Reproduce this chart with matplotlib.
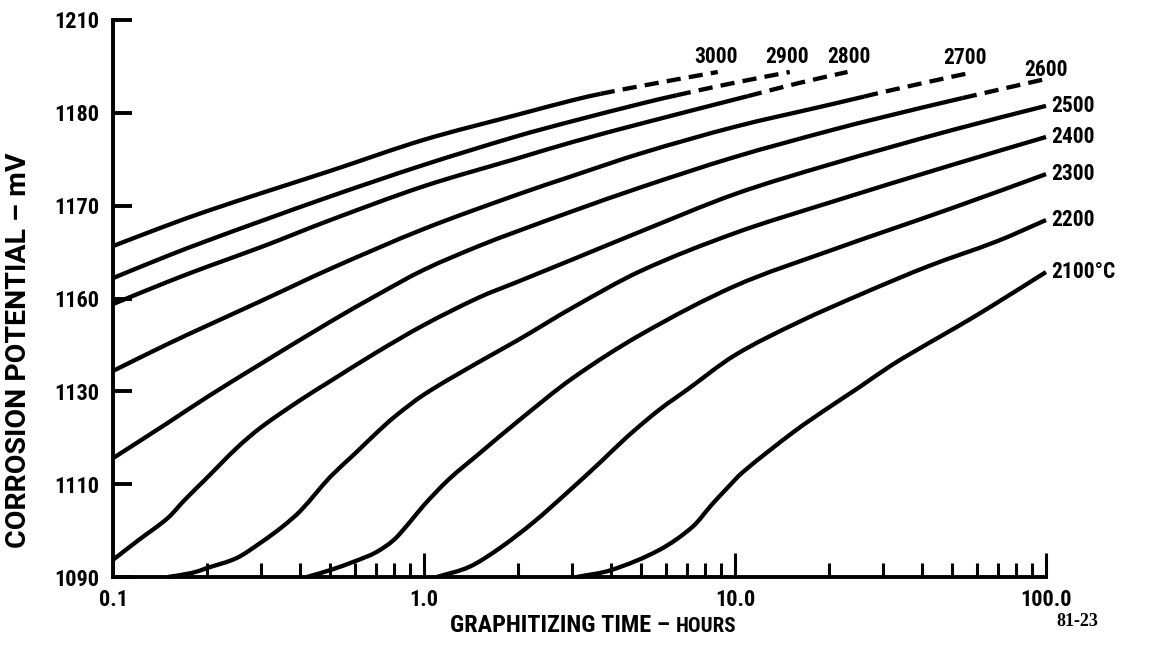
import numpy as np
import matplotlib
matplotlib.use("Agg")
import matplotlib.pyplot as plt
from matplotlib import font_manager as fm
from matplotlib.path import Path
from matplotlib.patches import PathPatch
from matplotlib.ticker import FixedLocator, FixedFormatter, NullFormatter

# Corrosion potential (mV) versus graphitizing time (hours), one curve per
# graphitizing temperature (deg C).
t_3000 = [0.1, 0.15, 0.2, 0.3, 0.5, 1.0, 2.0, 3.0, 3.7, 5.0, 7.0, 8.8]
mv_3000 = [1161.3, 1165.8, 1168.8, 1172.7, 1177.5, 1184.2, 1189.6, 1192.7, 1194.1, 1195.8, 1197.6, 1198.8]

t_2900 = [0.1, 0.15, 0.2, 0.3, 0.5, 1.0, 2.0, 3.0, 5.0, 6.5, 10, 15]
mv_2900 = [1154.4, 1159.2, 1162.4, 1166.7, 1172.0, 1178.8, 1185.0, 1188.2, 1192.0, 1193.8, 1196.5, 1198.8]

t_2800 = [0.1, 0.15, 0.2, 0.3, 0.5, 1.0, 2.0, 3.0, 5.0, 11, 16, 23]
mv_2800 = [1148.8, 1153.6, 1156.8, 1161.1, 1166.9, 1174.2, 1180.2, 1183.7, 1187.7, 1193.6, 1196.4, 1198.8]

t_2700 = [0.1, 0.15, 0.2, 0.3, 0.5, 1.0, 2.0, 3.0, 5.0, 10, 20, 26, 30, 50, 57]
mv_2700 = [1134.4, 1140.2, 1144.1, 1149.5, 1156.4, 1165.0, 1172.4, 1176.4, 1181.3, 1187.0, 1191.7, 1193.5, 1194.5, 1197.8, 1198.6]

t_2600 = [0.1, 0.15, 0.2, 0.3, 0.5, 0.7, 1.0, 1.5, 2.0, 3.0, 5.0, 10, 20, 30, 54, 100]
mv_2600 = [1115.6, 1123.2, 1128.7, 1136.0, 1145.0, 1150.6, 1156.2, 1161.3, 1164.5, 1168.8, 1174.0, 1180.5, 1186.1, 1189.1, 1193.2, 1197.3]

t_2500 = [0.1, 0.12, 0.15, 0.17, 0.2, 0.25, 0.3, 0.4, 0.5, 0.7, 1.0, 1.5, 2.0, 3.0, 5.0, 10, 20, 50, 100]
mv_2500 = [1093.7, 1097.8, 1102.7, 1106.6, 1111.3, 1117.8, 1122.3, 1128.1, 1132.2, 1138.3, 1144.3, 1150.2, 1153.6, 1158.4, 1164.5, 1172.5, 1178.8, 1186.3, 1191.5]

t_2400 = [0.15, 0.18, 0.2, 0.25, 0.3, 0.35, 0.4, 0.45, 0.5, 0.6, 0.7, 0.8, 1.0, 1.5, 2.0, 3.0, 5.0, 10, 20, 50, 100]
mv_2400 = [1090.0, 1090.9, 1091.9, 1094.1, 1097.5, 1100.8, 1104.2, 1108.1, 1111.6, 1116.6, 1120.9, 1124.4, 1129.3, 1136.3, 1141.0, 1148.0, 1156.0, 1164.1, 1170.6, 1178.8, 1184.8]

t_2300 = [0.42, 0.5, 0.6, 0.7, 0.8, 0.9, 1.0, 1.2, 1.5, 2.0, 3.0, 5.0, 10, 20, 50, 100]
mv_2300 = [1090.0, 1091.5, 1093.4, 1095.3, 1098.0, 1101.8, 1105.5, 1111.0, 1116.5, 1123.5, 1132.8, 1142.3, 1152.7, 1160.2, 1169.5, 1176.8]

t_2200 = [1.1, 1.4, 1.75, 2.25, 2.9, 3.7, 4.5, 5.7, 7.0, 10, 16, 26, 42, 70, 100]
mv_2200 = [1090.0, 1092.2, 1096.2, 1101.8, 1108.3, 1114.8, 1120.2, 1126.0, 1130.3, 1137.8, 1144.9, 1151.2, 1157.0, 1162.4, 1166.9]

t_2100 = [3.1, 4.0, 5.7, 7.3, 8.4, 9.3, 10.6, 15.4, 20, 25, 32, 41, 53, 67, 100]
mv_2100 = [1090.0, 1091.5, 1095.8, 1100.8, 1105.5, 1108.7, 1112.6, 1121.2, 1126.5, 1130.8, 1135.7, 1140.0, 1144.3, 1148.4, 1155.7]

temperatures = [3000, 2900, 2800, 2700, 2600, 2500, 2400, 2300, 2200, 2100]
curve_labels = ["3000", "2900", "2800", "2700", "2600", "2500", "2400", "2300", "2200", "2100\u00b0C"]
# Beyond these times the curves are extrapolated (dashed).
dashed_after = {3000: 3.7, 2900: 6.5, 2800: 11, 2700: 26, 2600: 54}

x_major = [0.1, 1.0, 10.0, 100.0]
x_major_labels = ["0.1", "1.0", "10.0", "100.0"]
y_ticks = [1090, 1110, 1130, 1150, 1170, 1190, 1210]
y_tick_labels = ["1090", "1110", "1130", "1160", "1170", "1180", "1210"]

series = {
    3000: (t_3000, mv_3000), 2900: (t_2900, mv_2900), 2800: (t_2800, mv_2800),
    2700: (t_2700, mv_2700), 2600: (t_2600, mv_2600), 2500: (t_2500, mv_2500),
    2400: (t_2400, mv_2400), 2300: (t_2300, mv_2300), 2200: (t_2200, mv_2200),
    2100: (t_2100, mv_2100),
}


def pick_narrow_font():
    """Return (family, stretch) of the narrowest bold sans face available."""
    fonts = fm.fontManager.ttflist
    names = {f.name for f in fonts}
    for name in ("Liberation Sans Narrow", "Roboto Condensed", "Open Sans Condensed",
                 "Noto Sans Condensed", "Arial Narrow"):
        if name in names:
            return name, "normal"
    for f in fonts:
        if f.name in ("DejaVu Sans", "Noto Sans", "Open Sans", "Roboto") and \
                f.stretch in ("condensed", "semi-condensed", "extra-condensed"):
            return f.name, f.stretch
    return "DejaVu Sans", "normal"


FAMILY, STRETCH = pick_narrow_font()
plt.rcParams['font.family'] = [FAMILY, 'DejaVu Sans']
plt.rcParams['font.stretch'] = STRETCH
plt.rcParams['font.weight'] = 'bold'


def hermite_segments(t, mv):
    """Cubic Bezier segments of a Hermite curve through the points (log time)."""
    x = np.log10(np.asarray(t, float))
    y = np.asarray(mv, float)
    n = len(x)
    m = np.empty(n)
    m[0] = (y[1] - y[0]) / (x[1] - x[0])
    m[-1] = (y[-1] - y[-2]) / (x[-1] - x[-2])
    for i in range(1, n - 1):
        m[i] = (y[i + 1] - y[i - 1]) / (x[i + 1] - x[i - 1])
    segs = []
    for i in range(n - 1):
        h = x[i + 1] - x[i]
        segs.append([(x[i], y[i]),
                     (x[i] + h / 3, y[i] + m[i] * h / 3),
                     (x[i + 1] - h / 3, y[i + 1] - m[i + 1] * h / 3),
                     (x[i + 1], y[i + 1])])
    return segs


def segments_path(segs):
    verts = [segs[0][0]]
    codes = [Path.MOVETO]
    for s in segs:
        verts += s[1:]
        codes += [Path.CURVE4] * 3
    verts = np.array(verts)
    verts[:, 0] = 10 ** verts[:, 0]
    return Path(verts, codes)


W, H = 1152, 656
fig = plt.figure(figsize=(W / 100, H / 100), dpi=100)
fig.patch.set_facecolor('white')
ax = fig.add_axes([113 / W, 79 / H, (1046 - 113) / W, (577 - 20) / H])
ax.set_xscale('log')
ax.set_xlim(0.1, 100)
ax.set_ylim(1090, 1210)

LW = 3.1
for temp in temperatures:
    t, mv = series[temp]
    segs = hermite_segments(t, mv)
    cut = t.index(dashed_after[temp]) if temp in dashed_after else len(segs)
    parts = [(segs[:cut], '-')]
    if cut < len(segs):
        parts.append((segs[cut:], (0, (3.3, 1.9))))
    for part, ls in parts:
        ax.add_patch(PathPatch(segments_path(part), facecolor='none', edgecolor='black',
                               lw=LW, linestyle=ls, capstyle='butt', clip_on=False))

# curve labels: temperatures above the dashed ends, to the right of the solid ends
top_offsets = {3000: (-1, 3), 2900: (-2, 3), 2800: (1, 3), 2700: (-4, 3), 2600: (0, -1.5)}
for temp, text in zip(temperatures, curve_labels):
    t, mv = series[temp]
    if temp in top_offsets:
        ax.annotate(text, (t[-1], mv[-1]), xytext=top_offsets[temp],
                    textcoords='offset points', ha='center', va='bottom',
                    fontsize=15.5, fontweight='bold', annotation_clip=False)
    else:
        ax.annotate(text, (t[-1], mv[-1]), xytext=(4, 0),
                    textcoords='offset points', ha='left', va='center',
                    fontsize=15.5, fontweight='bold', annotation_clip=False)

for side in ('top', 'right'):
    ax.spines[side].set_visible(False)
for side in ('left', 'bottom'):
    ax.spines[side].set_linewidth(2.8)

ax.yaxis.set_major_locator(FixedLocator(y_ticks))
ax.yaxis.set_major_formatter(FixedFormatter(y_tick_labels))
ax.yaxis.set_minor_locator(FixedLocator([]))
ax.xaxis.set_major_locator(FixedLocator(x_major))
ax.xaxis.set_major_formatter(FixedFormatter(x_major_labels))
minor = [m * d for d in (0.1, 1.0, 10.0) for m in range(2, 10)]
ax.xaxis.set_minor_locator(FixedLocator(minor))
ax.xaxis.set_minor_formatter(NullFormatter())

ax.tick_params(axis='y', which='major', direction='in', length=14, width=2.8,
               pad=10, labelsize=16)
ax.tick_params(axis='x', which='major', direction='in', length=17, width=2.2,
               pad=9, labelsize=16)
ax.tick_params(axis='x', which='minor', direction='in', length=10, width=2.2)
for lab in ax.get_xticklabels() + ax.get_yticklabels():
    lab.set_fontweight('bold')

fig.text(19 / W, 1 - 350 / H, "CORROSION POTENTIAL \u2013 mV", rotation=90,
         ha='center', va='center', fontsize=20.5, fontweight='bold',
         family=['Roboto', FAMILY, 'DejaVu Sans'], stretch='normal')
fig.text(670 / W, 1 - 632 / H, "GRAPHITIZING TIME \u2013", ha='right', va='baseline',
         fontsize=17.5, fontweight='bold')
fig.text(676 / W, 1 - 632 / H, "HOURS", ha='left', va='baseline',
         fontsize=15, fontweight='bold')
fig.text(1077 / W, 1 - 622 / H, "81-23", ha='center', va='center',
         fontsize=13, fontweight='bold', family=['Liberation Serif', 'DejaVu Serif'])

fig.savefig("out.png", dpi=100, facecolor='white')
